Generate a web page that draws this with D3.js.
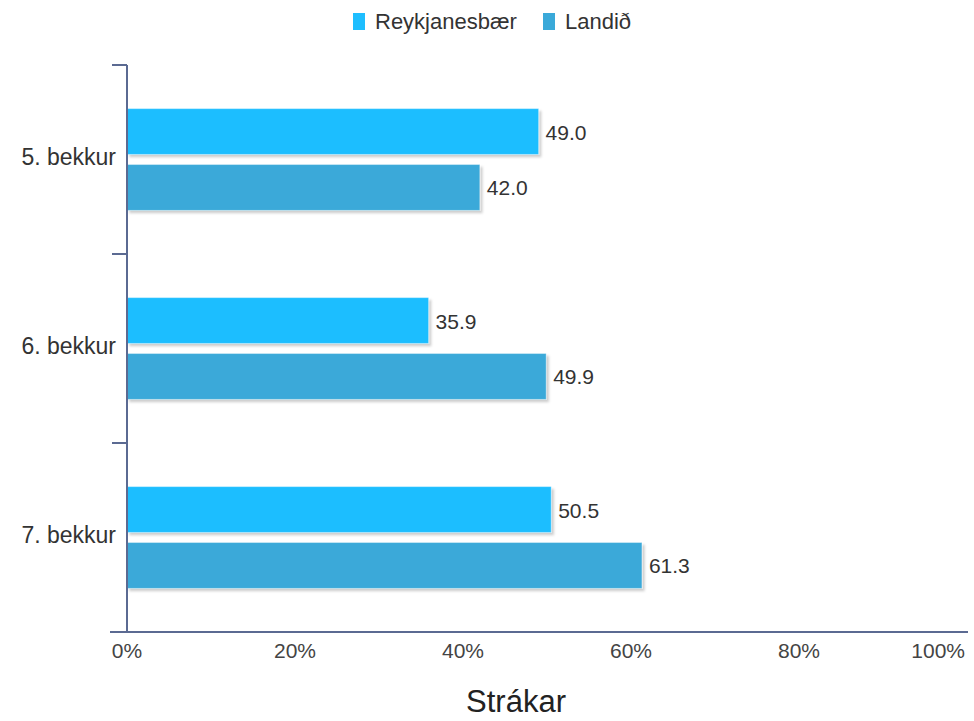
<!DOCTYPE html>
<html>
<head>
<meta charset="utf-8">
<script src="https://cdn.jsdelivr.net/npm/d3@7/dist/d3.min.js"></script>
<style>
  html, body { margin: 0; padding: 0; background: #fff; }
  svg { display: block; font-family: "Liberation Sans", Arial, sans-serif; }
</style>
</head>
<body>
<svg id="chart" width="974" height="721"></svg>
<script>
// Hlutfall stráka eftir bekk
const categories = ["5. bekkur", "6. bekkur", "7. bekkur"];
const seriesNames = ["Reykjanesbær", "Landið"];
const reykjanesbaer = [49.0, 35.9, 50.5];
const landid = [42.0, 49.9, 61.3];
const xTicks = [0, 20, 40, 60, 80, 100];
const title = "Strákar";

const colors = ["#1ebeff", "#3aa9d9"];
const axisColor = "#5b6a92";

const svg = d3.select("#chart");
const W = 974, H = 721;
const margin = { left: 127, right: 6, top: 65, bottom: 89 };
const plotW = 840;
const plotH = H - margin.top - margin.bottom;

const x = d3.scaleLinear().domain([0, 100]).range([margin.left, margin.left + plotW]);
const y = d3.scaleBand().domain(categories).range([margin.top, margin.top + plotH]);
const inner = d3.scaleBand().domain(seriesNames).range([0, y.bandwidth()])
  .paddingInner(0.18).paddingOuter(0.78);

const data = categories.map((c, i) => ({
  cat: c,
  vals: [
    { s: seriesNames[0], v: reykjanesbaer[i], col: colors[0] },
    { s: seriesNames[1], v: landid[i], col: colors[1] }
  ]
}));

const defs = svg.append("defs");
defs.append("filter").attr("id", "shadow")
  .attr("x", "-5%").attr("y", "-20%").attr("width", "115%").attr("height", "160%")
  .append("feDropShadow")
  .attr("dx", 2.5).attr("dy", 2.5).attr("stdDeviation", 1.2)
  .attr("flood-color", "#000").attr("flood-opacity", 0.2);

// Legend
const legend = svg.append("g");
const legendItems = [
  { name: seriesNames[0], col: colors[0], x: 353 },
  { name: seriesNames[1], col: colors[1], x: 543 }
];
legendItems.forEach(d => {
  legend.append("rect").attr("x", d.x).attr("y", 13).attr("width", 12).attr("height", 17)
    .attr("fill", d.col);
  legend.append("text").attr("x", d.x + 22).attr("y", 29)
    .attr("font-size", 22).attr("fill", "#333").text(d.name);
});

// Bars
const groups = svg.append("g").selectAll("g").data(data).join("g")
  .attr("transform", d => `translate(0,${y(d.cat)})`);

groups.selectAll("rect.bar").data(d => d.vals).join("rect")
  .attr("class", "bar")
  .attr("x", x(0))
  .attr("y", d => inner(d.s))
  .attr("width", d => x(d.v) - x(0))
  .attr("height", inner.bandwidth())
  .attr("fill", d => d.col)
  .attr("stroke", "#ffffff")
  .attr("stroke-opacity", 0.35)
  .attr("stroke-width", 1)
  .attr("filter", "url(#shadow)");

groups.selectAll("text.val").data(d => d.vals).join("text")
  .attr("class", "val")
  .attr("x", d => x(d.v) + 7)
  .attr("y", d => inner(d.s) + inner.bandwidth() / 2 + 8)
  .attr("font-size", 21).attr("fill", "#333")
  .text(d => d.v.toFixed(1));

// Y axis
const yAxis = svg.append("g").attr("transform", `translate(${margin.left},0)`);
yAxis.append("line").attr("x1", 0).attr("x2", 0)
  .attr("y1", margin.top).attr("y2", margin.top + plotH)
  .attr("stroke", axisColor).attr("stroke-width", 2);
const bounds = categories.map(c => y(c)).concat([margin.top + plotH]);
yAxis.selectAll("line.tick").data(bounds).join("line")
  .attr("class", "tick")
  .attr("x1", -15).attr("x2", 0).attr("y1", d => d).attr("y2", d => d)
  .attr("stroke", axisColor).attr("stroke-width", 2);
yAxis.selectAll("text").data(categories).join("text")
  .attr("x", -11).attr("y", d => y(d) + y.bandwidth() / 2 + 5)
  .attr("text-anchor", "end").attr("font-size", 23).attr("fill", "#333")
  .text(d => d);

// X axis
const xAxis = svg.append("g");
xAxis.append("line")
  .attr("x1", 110).attr("x2", x(100) + 1)
  .attr("y1", margin.top + plotH).attr("y2", margin.top + plotH)
  .attr("stroke", axisColor).attr("stroke-width", 2);
xAxis.selectAll("text").data(xTicks).join("text")
  .attr("x", d => d === 100 ? x(d) - 2 : x(d))
  .attr("y", margin.top + plotH + 26)
  .attr("text-anchor", d => d === 100 ? "end" : "middle")
  .attr("font-size", 21).attr("fill", "#444")
  .text(d => d + "%");

// Title
svg.append("text").attr("x", 516).attr("y", 712)
  .attr("text-anchor", "middle").attr("font-size", 31).attr("fill", "#222")
  .text(title);
</script>
</body>
</html>
